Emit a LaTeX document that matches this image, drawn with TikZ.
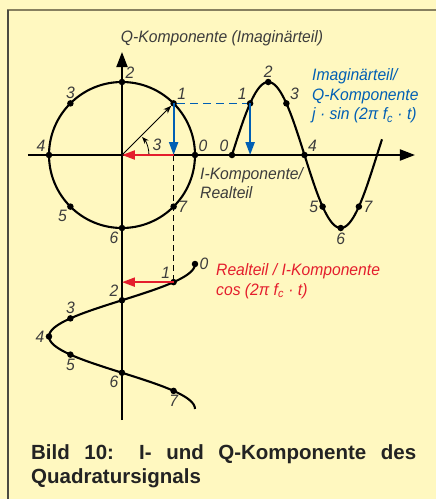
\documentclass[tikz,border=0pt]{standalone}
\usepackage{fontspec}
\usetikzlibrary{arrows.meta}
\newfontfamily\lblfont[FakeStretch=0.95]{Liberation Sans}
\newfontfamily\capfont{Liberation Sans}
\definecolor{bg}{RGB}{255,248,192}
\definecolor{qblue}{RGB}{0,95,180}
\definecolor{ired}{RGB}{228,30,45}
\definecolor{txtgray}{RGB}{60,60,60}
\definecolor{frametop}{RGB}{135,128,95}
\definecolor{frameleft}{RGB}{75,75,65}

\begin{document}
\begin{tikzpicture}[x=1pt,y=1pt,
  every label/.style={font=\lblfont\itshape\fontsize{16.5}{19}\selectfont, text=txtgray, inner sep=1pt},
  dot/.style={circle, fill=black, inner sep=0pt, minimum size=6.5pt},
  axis/.style={line width=1.8pt, -{Triangle[length=15pt,width=11pt]}},
  curve/.style={line width=2.1pt},
  vec/.style={line width=2.2pt, -{Triangle[length=13pt,width=9pt]}},
  lbl/.style={font=\lblfont\itshape\fontsize{16.5}{19.5}\selectfont, align=left, inner sep=0pt}]
  \useasboundingbox (-122,-344) rectangle (314,155);
  \fill[bg] (-122,-344) rectangle (314,155);
  \draw[frametop, line width=1.5pt] (314,145) -- (-114.75,145);
  \draw[frameleft, line width=1.5pt] (-114,145) -- (-114,-344);

  % axes
  \coordinate (o) at (0,0);
  \coordinate (xs) at (-94,0);
  \coordinate (xe) at (293,0);
  \coordinate (ys) at (0,-265);
  \coordinate (ye) at (0,103);
  \draw[axis] (xs) -- (xe);
  \draw[axis] (ys) -- (ye);

  % circle, sine and cosine
  \draw[curve] (o) circle[radius=73];
  \draw[curve] plot[domain=0:150, samples=90, smooth] ({110+\x}, {73*sin(\x/145*360)});
  \draw[curve] plot[domain=0:8, samples=90, smooth] ({73*cos(45*\x)}, {-109-18.125*\x});

  \foreach \k/\p in {0/above right,1/above right,2/above right,3/above,4/above left,5/below left,6/below left,7/right}
    \node[dot, label={\p:\k}] (c\k) at ({73*cos(45*\k)},{73*sin(45*\k)}) {};
  \foreach \k/\p in {0/above left,1/above left,2/above,3/above right,4/above right,5/left,6/below,7/right}
    \node[dot, label={\p:\k}] (w\k) at ({110+18.125*\k},{73*sin(45*\k)}) {};
  \foreach \k/\p in {0/right,1/above left,2/above left,3/above,4/left,5/below,6/below left,7/below}
    \node[dot, label={\p:\k}] (r\k) at ({73*cos(45*\k)},{-109-18.125*\k}) {};

  % pointer and angle
  \draw[line width=0.9pt, -{Stealth[length=8pt]}] (o) -- (c1);
  \draw[line width=0.8pt, -{Stealth[length=7pt]}] (27,0) arc[start angle=0, end angle=42, radius=27];
  \node[lbl, text=txtgray] (phi) at (35,10) {3};

  % projections
  \draw[qblue, line width=1.6pt, dash pattern=on 8pt off 5pt] (c1) -- (w1);
  \draw[vec, qblue] (c1.center) -- (c1 |- o);
  \draw[vec, qblue] (w1.center) -- (w1 |- o);
  \draw[line width=1.5pt, dash pattern=on 6pt off 4pt] (c1 |- o) -- (r1);
  \draw[vec, ired] (c1 |- o) -- (o);
  \draw[vec, ired] (r1.center) -- (r1 -| o);

  % texts
  \node[lbl, text=txtgray] (qlab) at (100,117) {Q-Komponente (Imaginärteil)};
  \node[lbl, text=txtgray, anchor=west] (ilab) at (78,-28) {I-Komponente/\\Realteil};
  \node[lbl, text=qblue, anchor=west] (qtxt) at (190,59) {Imaginärteil/\\Q-Komponente\\j · sin (2π f\textsubscript{c} · t)};
  \node[lbl, text=ired, anchor=west] (itxt) at (94,-126) {Realteil / I-Komponente\\cos (2π f\textsubscript{c} · t)};
  \node[font=\capfont\bfseries\fontsize{20.5}{24.5}\selectfont, text={rgb,255:red,35;green,35;blue,35},
    text width=385pt, align=justify, anchor=north west, inner sep=0pt] (cap) at (-91,-289)
    {Bild 10: I- und Q-Komponente des\linebreak Quadratursignals};
\end{tikzpicture}
\end{document}
